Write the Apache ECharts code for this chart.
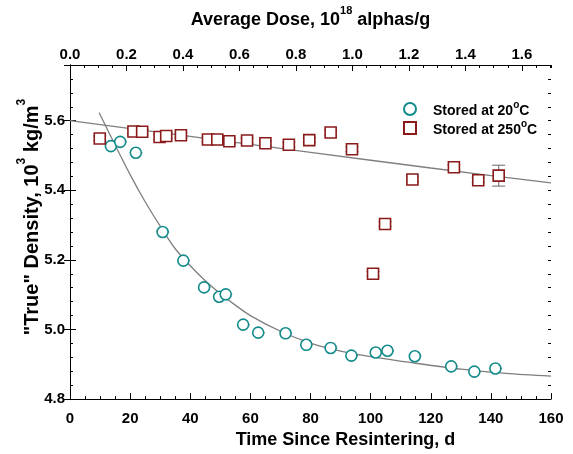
<!DOCTYPE html>
<html>
<head>
<meta charset="utf-8">
<script src="https://cdn.jsdelivr.net/npm/echarts@6/dist/echarts.min.js"></script>
<style>
html,body{margin:0;padding:0;background:#fff;}
#chart{width:573px;height:454px;}
</style>
</head>
<body>
<div id="chart"></div>
<script>
// ---- Data ----
// Stored at 20 °C (time, d ; density, 10^3 kg/m^3)
const time20 = [13.6, 16.7, 21.9, 30.8, 37.7, 44.6, 49.6, 51.8, 57.6, 62.6, 71.7, 78.6, 86.7, 93.6, 101.7, 105.6, 114.7, 126.8, 134.5, 141.5];
const dens20 = [5.527, 5.539, 5.508, 5.280, 5.198, 5.121, 5.094, 5.101, 5.014, 4.991, 4.989, 4.956, 4.947, 4.925, 4.934, 4.939, 4.923, 4.894, 4.879, 4.888];
const xErr20 = [2.2, 2.2, 2.2, 2.2, 2.2, 2.2, 2.2, 2.2, 2.2, 2.2, 2.2, 2.2, 2.2, 2.2, 2.2, 2.2, 2.2, 2.2, 2.2, 2.2];

// Stored at 250 °C
const time250 = [9.9, 21.1, 24.0, 29.8, 32.0, 36.9, 45.9, 49.0, 53.0, 58.9, 65.0, 72.8, 79.6, 86.7, 93.8, 100.8, 104.8, 113.9, 127.7, 135.8, 142.6];
const dens250 = [5.549, 5.569, 5.568, 5.553, 5.556, 5.558, 5.546, 5.546, 5.541, 5.543, 5.535, 5.531, 5.544, 5.566, 5.518, 5.160, 5.303, 5.431, 5.466, 5.429, 5.442];
const yErr250 = [0.007, 0.007, 0.007, 0.007, 0.007, 0.007, 0.007, 0.007, 0.007, 0.007, 0.007, 0.007, 0.007, 0.007, 0.007, 0.007, 0.007, 0.007, 0.007, 0.007, 0.030];

// Fit curves
const fit20Time = [9.7, 15, 20, 25, 30, 35, 40, 45, 50, 55, 60, 70, 80, 90, 100, 115, 130, 145, 160];
const fit20Dens = [5.623, 5.530, 5.445, 5.367, 5.297, 5.232, 5.183, 5.140, 5.103, 5.070, 5.040, 4.995, 4.961, 4.938, 4.922, 4.903, 4.886, 4.874, 4.866];
const fit250Time = [0, 40, 80, 120, 160];
const fit250Dens = [5.600, 5.555, 5.509, 5.464, 5.421];

// Axis ticks
const xTicks = [0, 160, 20];
const doseTicks = [0, 1.703, 0.2];
const yTicks = [4.8, 5.76, 0.2];

const teal = '#138b8b';
const red = '#8b1a1a';
const gray = '#7f7f7f';
const FONT = 'Liberation Sans, Arial, sans-serif';

const zip = (a, b) => a.map((v, i) => [v, b[i]]);

const chart = echarts.init(document.getElementById('chart'), null, {renderer: 'canvas'});

const tickLabel = {fontFamily: FONT, fontWeight: 'bold', fontSize: 15, color: '#000'};
function titleRich(fs) {
  return {
    t: {fontFamily: FONT, fontWeight: 'bold', fontSize: fs, color: '#000', lineHeight: fs + 6, verticalAlign: 'bottom'},
    s: {fontFamily: FONT, fontWeight: 'bold', fontSize: Math.round(fs * 0.62), color: '#000', lineHeight: 12, verticalAlign: 'top'}
  };
}

function majorAxis(extra) {
  return Object.assign({
    type: 'value',
    axisLine: {show: true, lineStyle: {color: '#000', width: 1}},
    axisTick: {show: true, inside: true, length: 6, lineStyle: {color: '#000', width: 1}},
    splitLine: {show: false}
  }, extra);
}
function minorAxis(extra) {
  return Object.assign({
    type: 'value',
    axisLine: {show: false},
    axisTick: {show: true, inside: true, length: 3, lineStyle: {color: '#000', width: 1}},
    axisLabel: {show: false},
    splitLine: {show: false}
  }, extra);
}

// error bar renderer: value = [x, y, xlo, xhi, ylo, yhi]
function errRender(capHalfW) {
  return function (params, api) {
    const x = api.value(0), y = api.value(1);
    const c = api.coord([x, y]);
    const xl = api.coord([api.value(2), y]);
    const xh = api.coord([api.value(3), y]);
    const yl = api.coord([x, api.value(4)]);
    const yh = api.coord([x, api.value(5)]);
    const st = {stroke: gray, lineWidth: 1.2};
    const ch = [];
    if (xh[0] - xl[0] > 0.5) {
      ch.push({type: 'line', shape: {x1: xl[0], y1: c[1], x2: xh[0], y2: c[1]}, style: st});
    }
    if (yl[1] - yh[1] > 0.5) {
      ch.push({type: 'line', shape: {x1: c[0], y1: yl[1], x2: c[0], y2: yh[1]}, style: st});
      ch.push({type: 'line', shape: {x1: c[0] - capHalfW, y1: yl[1], x2: c[0] + capHalfW, y2: yl[1]}, style: st});
      ch.push({type: 'line', shape: {x1: c[0] - capHalfW, y1: yh[1], x2: c[0] + capHalfW, y2: yh[1]}, style: st});
    }
    return {type: 'group', children: ch};
  };
}

const err20 = time20.map((t, i) => [t, dens20[i], t, t + xErr20[i], dens20[i], dens20[i]]);
const err250 = time250.map((t, i) => [t, dens250[i], t, t, dens250[i] - yErr250[i], dens250[i] + yErr250[i]]);

const option = {
  animation: false,
  backgroundColor: '#fff',
  grid: {left: 70, right: 22, top: 64, bottom: 54},
  legend: {
    show: true,
    left: 398, top: 95,
    orient: 'vertical',
    itemWidth: 12, itemHeight: 12,
    itemGap: 1,
    data: ['s20', 's250'],
    formatter: function (n) {
      return n === 's20' ? '{g|}{t|Stored at 20}{s|o}{t|C}' : '{g|}{t|Stored at 250}{s|o}{t|C}';
    },
    textStyle: {
      rich: {
        g: {width: 12},
        t: {fontFamily: FONT, fontWeight: 'bold', fontSize: 14, color: '#000', lineHeight: 18, verticalAlign: 'bottom'},
        s: {fontFamily: FONT, fontWeight: 'bold', fontSize: 10, color: '#000', lineHeight: 10, verticalAlign: 'top'}
      }
    }
  },
  xAxis: [
    majorAxis({
      position: 'bottom', min: xTicks[0], max: xTicks[1], interval: xTicks[2],
      minorTick: {show: true, splitNumber: 4, length: 3, lineStyle: {color: '#000', width: 1}},
      axisLabel: Object.assign({margin: 12}, tickLabel),
      name: '{t|Time Since Resintering, d}',
      nameLocation: 'middle', nameGap: 22,
      nameTextStyle: {rich: titleRich(18), padding: [0, 0, 0, 70]}
    }),
    majorAxis({
      position: 'top', min: doseTicks[0], max: doseTicks[1], interval: doseTicks[2],
      axisLabel: Object.assign({margin: 3, showMaxLabel: false, formatter: v => v.toFixed(1)}, tickLabel),
      name: '{t|Average Dose, 10}{s|18}{t| alphas/g}',
      nameLocation: 'middle', nameGap: 36,
      nameTextStyle: {rich: titleRich(18)}
    }),
    minorAxis({position: 'top', min: doseTicks[0], max: doseTicks[1], interval: 0.05})
  ],
  yAxis: [
    majorAxis({
      position: 'left', min: yTicks[0], max: yTicks[1], interval: yTicks[2],
      axisLabel: Object.assign({margin: 5, showMaxLabel: false, formatter: v => v.toFixed(1)}, tickLabel),
      name: '{t|"True" Density, 10}{s|3}{t| kg/m}{s|3}',
      nameLocation: 'middle', nameGap: 28, nameRotate: 90, nameMoveOverlap: false,
      nameTextStyle: {rich: titleRich(20), padding: [0, 0, 0, 30]}
    }),
    minorAxis({position: 'left', min: yTicks[0], max: yTicks[1], interval: 0.04}),
    majorAxis({position: 'right', min: yTicks[0], max: yTicks[1], interval: yTicks[2], axisLabel: {show: false}}),
    minorAxis({position: 'right', min: yTicks[0], max: yTicks[1], interval: 0.04})
  ],
  series: [
    {
      type: 'line', name: 'fit20', data: zip(fit20Time, fit20Dens),
      xAxisIndex: 0, yAxisIndex: 0, smooth: 0.3, showSymbol: false, symbol: 'none',
      lineStyle: {color: gray, width: 1.3}, z: 1, silent: true
    },
    {
      type: 'line', name: 'fit250', data: zip(fit250Time, fit250Dens),
      xAxisIndex: 0, yAxisIndex: 0, smooth: 0.3, showSymbol: false, symbol: 'none',
      lineStyle: {color: gray, width: 1.3}, z: 1, silent: true
    },
    {
      type: 'custom', name: 'err20', data: err20, xAxisIndex: 0, yAxisIndex: 0,
      renderItem: errRender(0), z: 2, silent: true,
      encode: {x: [0, 2, 3], y: [1]}
    },
    {
      type: 'custom', name: 'err250', data: err250, xAxisIndex: 0, yAxisIndex: 0,
      renderItem: errRender(6.5), z: 2, silent: true,
      encode: {x: [0], y: [1, 4, 5]}
    },
    {
      type: 'scatter', name: 's20', data: zip(time20, dens20),
      xAxisIndex: 0, yAxisIndex: 0, symbol: 'circle', symbolSize: 11,
      itemStyle: {color: '#fff', borderColor: teal, borderWidth: 1.6, opacity: 1}, z: 3
    },
    {
      type: 'scatter', name: 's250', data: zip(time250, dens250),
      xAxisIndex: 0, yAxisIndex: 0, symbol: 'rect', symbolSize: 11,
      itemStyle: {color: '#fff', borderColor: red, borderWidth: 1.6, opacity: 1}, z: 3
    }
  ]
};
chart.setOption(option);
</script>
</body>
</html>
